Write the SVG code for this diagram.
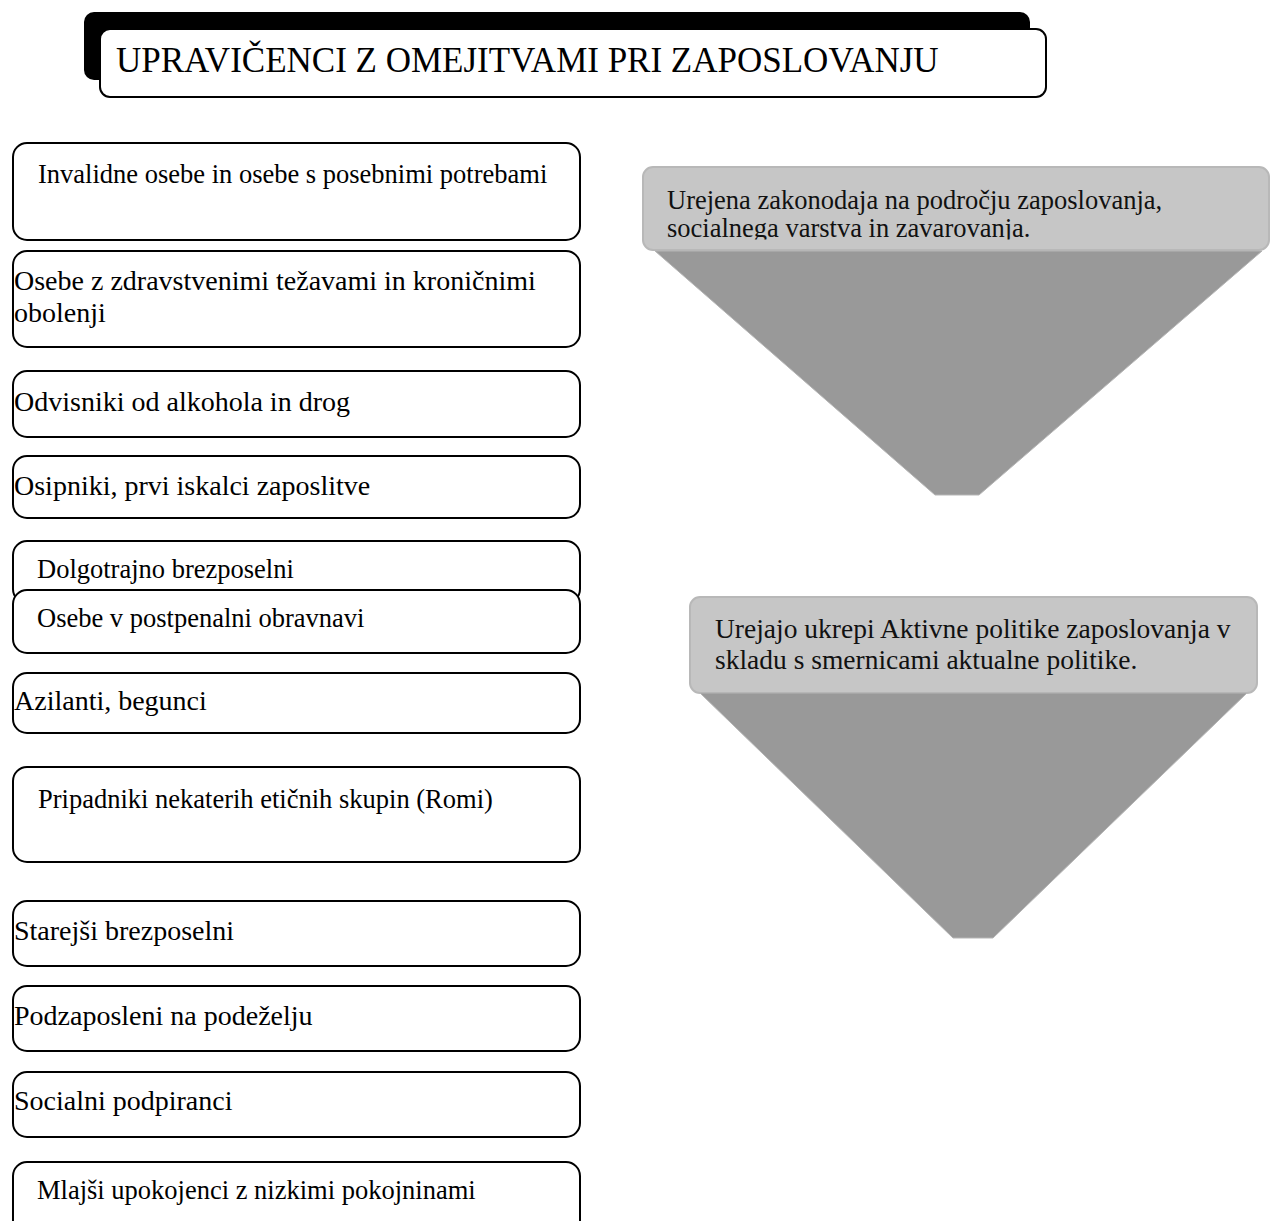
<svg xmlns="http://www.w3.org/2000/svg" width="1272" height="1221" viewBox="0 0 1272 1221">
<style>
.box{fill:#fff;stroke:#000;stroke-width:2}
.t{font-family:"Liberation Serif","Times New Roman",serif;font-size:26.5px;fill:#000}
.t2{font-family:"Liberation Serif","Times New Roman",serif;font-size:28px;fill:#000}
.rt{font-family:"Liberation Serif","Times New Roman",serif;font-size:26.5px;fill:#111}
.hdr{fill:#c6c6c6;stroke:#b8b8b8;stroke-width:2}
.tri{fill:#999;stroke:#b5b5b5;stroke-width:1}
</style>
<defs>
<clipPath id="c1"><rect x="643" y="167" width="627" height="72.5"/></clipPath>
</defs>
<rect width="1272" height="1221" fill="#fff"/>
<g id="title">
<rect x="84" y="12" width="946" height="68" rx="10" fill="#000"/>
<rect x="100" y="29" width="946" height="68" rx="10" class="box"/>
<text x="116" y="72" font-family="Liberation Serif, Times New Roman, serif" font-size="35">UPRAVIČENCI Z OMEJITVAMI PRI ZAPOSLOVANJU</text>
</g>
<g id="n1"><rect x="13" y="143" width="567" height="97" rx="14" class="box"/><text x="38" y="183" class="t">Invalidne osebe in osebe s posebnimi potrebami</text></g>
<g id="n2"><rect x="13" y="251" width="567" height="96" rx="14" class="box"/><text x="14" y="290" class="t2">Osebe z zdravstvenimi težavami in kroničnimi</text><text x="14" y="322" class="t2">obolenji</text></g>
<g id="n3"><rect x="13" y="371" width="567" height="66" rx="14" class="box"/><text x="14" y="411" class="t2">Odvisniki od alkohola in drog</text></g>
<g id="n4"><rect x="13" y="456" width="567" height="62" rx="14" class="box"/><text x="14" y="495" class="t2">Osipniki, prvi iskalci zaposlitve</text></g>
<g id="n5"><rect x="13" y="541" width="567" height="62" rx="14" class="box"/><text x="37" y="578" class="t">Dolgotrajno brezposelni</text></g>
<g id="n6"><rect x="13" y="590" width="567" height="63" rx="14" class="box"/><text x="37" y="627" class="t">Osebe v postpenalni obravnavi</text></g>
<g id="n7"><rect x="13" y="673" width="567" height="60" rx="14" class="box"/><text x="14" y="710" class="t2">Azilanti, begunci</text></g>
<g id="n8"><rect x="13" y="767" width="567" height="95" rx="14" class="box"/><text x="38" y="808" class="t">Pripadniki nekaterih etičnih skupin (Romi)</text></g>
<g id="n9"><rect x="13" y="901" width="567" height="65" rx="14" class="box"/><text x="14" y="940" class="t2">Starejši brezposelni</text></g>
<g id="n10"><rect x="13" y="986" width="567" height="65" rx="14" class="box"/><text x="14" y="1025" class="t2">Podzaposleni na podeželju</text></g>
<g id="n11"><rect x="13" y="1072" width="567" height="65" rx="14" class="box"/><text x="14" y="1110" class="t2">Socialni podpiranci</text></g>
<g id="n12"><rect x="13" y="1162" width="567" height="90" rx="14" class="box"/><text x="37" y="1199" class="t">Mlajši upokojenci z nizkimi pokojninami</text></g>
<g id="r1">
<rect x="643" y="167" width="626" height="83" rx="10" class="hdr"/>
<g clip-path="url(#c1)">
<text x="667" y="209" class="rt">Urejena zakonodaja na področju zaposlovanja,</text>
<text x="667" y="237" class="rt">socialnega varstva in zavarovanja.</text>
</g>
<polygon points="655,251 1262,251 979,495 935,495" class="tri"/>
</g>
<g id="r2">
<rect x="690" y="597" width="567" height="96" rx="10" class="hdr"/>
<text x="715" y="638" class="rt" font-size="27.5" style="font-size:27.5px">Urejajo ukrepi Aktivne politike zaposlovanja v</text>
<text x="715" y="669" class="rt" style="font-size:27.5px">skladu s smernicami aktualne politike.</text>
<polygon points="700,693 1247,693 993,938 953,938" class="tri"/>
</g>
<g id="connectors"/>
</svg>
